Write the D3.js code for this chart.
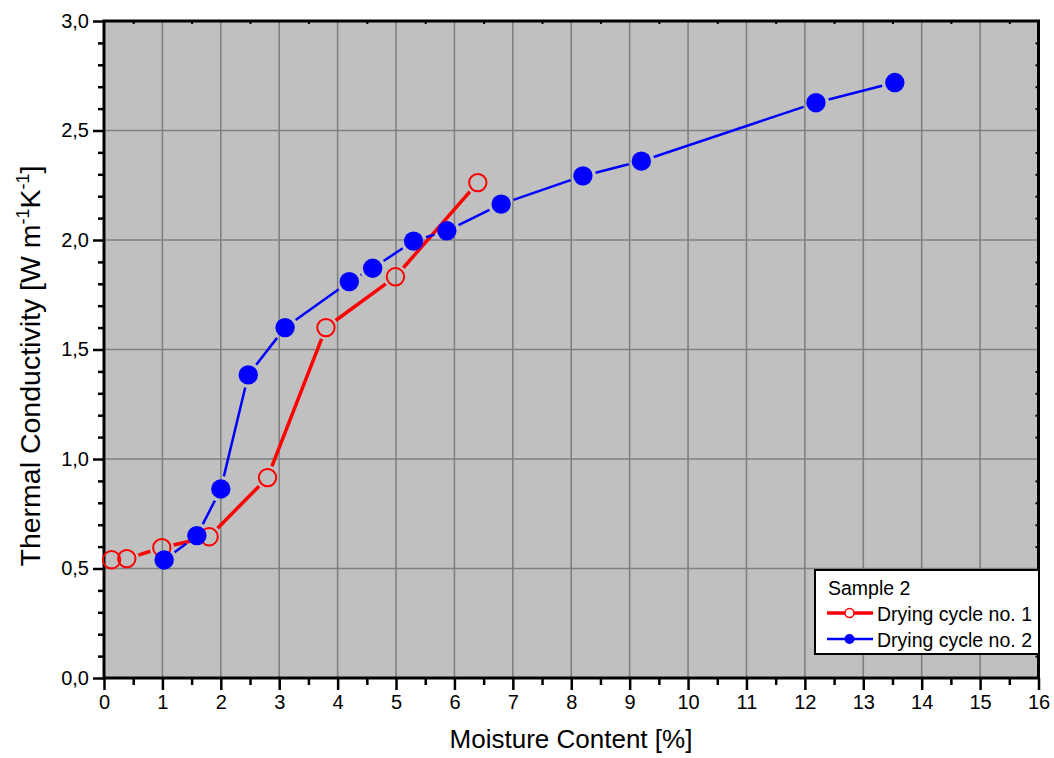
<!DOCTYPE html>
<html><head><meta charset="utf-8">
<script src="https://cdn.jsdelivr.net/npm/d3@7"></script>
<style>body{margin:0;background:#fff}svg{display:block}text{font-family:"Liberation Sans",Arial,sans-serif}</style>
</head><body><svg id="c" width="1054" height="758"></svg>
<script>
// Data
const cycle1X = [0.13, 0.39, 0.99, 1.80, 2.80, 3.80, 4.99, 6.40];
const cycle1Y = [0.540, 0.545, 0.595, 0.645, 0.915, 1.600, 1.832, 2.262];
const cycle2X = [1.03, 1.59, 2.00, 2.47, 3.10, 4.20, 4.60, 5.30, 5.87, 6.80, 8.20, 9.20, 12.19, 13.54];
const cycle2Y = [0.539, 0.650, 0.863, 1.384, 1.600, 1.810, 1.871, 1.995, 2.042, 2.164, 2.293, 2.360, 2.627, 2.719];
const xTicks = d3.range(0, 17, 1);
const yTicks = [0, 0.5, 1.0, 1.5, 2.0, 2.5, 3.0];
const legendTitle = "Sample 2";
const seriesNames = ["Drying cycle no. 1", "Drying cycle no. 2"];

const svg = d3.select("#c");
const L = 104, R = 1038.5, T = 21, B = 678;
const x = d3.scaleLinear().domain([0, 16]).range([L, R]);
const y = d3.scaleLinear().domain([0, 3]).range([B, T]);
const fmt = d => d3.format(".1f")(d).replace(".", ",");

svg.append("rect").attr("x", L).attr("y", T).attr("width", R - L).attr("height", B - T).attr("fill", "#c0c0c0");

// grid
svg.append("g").selectAll("line").data(xTicks.slice(1, -1)).join("line")
  .attr("x1", d => x(d)).attr("x2", d => x(d)).attr("y1", T).attr("y2", B)
  .attr("stroke", "#808080").attr("stroke-width", 1.6);
svg.append("g").selectAll("line").data(yTicks.slice(1, -1)).join("line")
  .attr("y1", d => y(d)).attr("y2", d => y(d)).attr("x1", L).attr("x2", R)
  .attr("stroke", "#808080").attr("stroke-width", 1.6);

// axes
const xAxis = d3.axisBottom(x).tickValues(xTicks).tickSize(12).tickPadding(5).tickFormat(d3.format("d"));
const gx = svg.append("g").attr("transform", `translate(0,${B})`).call(xAxis);
const yAxis = d3.axisLeft(y).tickValues(yTicks).tickSize(11).tickPadding(4).tickFormat(fmt);
const gy = svg.append("g").attr("transform", `translate(${L},0)`).call(yAxis);
[gx, gy].forEach(g => {
  g.select(".domain").remove();
  g.selectAll(".tick line").attr("stroke", "#000").attr("stroke-width", 2.5);
  g.selectAll(".tick text").attr("font-size", 20).attr("fill", "#000").style("font-family", '"Liberation Sans",Arial,sans-serif');
});
// minor ticks
const xMinor = d3.range(0.5, 16, 1);
svg.append("g").attr("transform", `translate(0,${B})`).call(d3.axisBottom(x).tickValues(xMinor).tickSize(7).tickFormat(""))
  .call(g => { g.select(".domain").remove(); g.selectAll("line").attr("stroke-width", 2.5); });
const yMinor = d3.range(0, 31).map(i => i / 10).filter(v => Math.round(v * 10) % 5 !== 0);
svg.append("g").attr("transform", `translate(${L},0)`).call(d3.axisLeft(y).tickValues(yMinor).tickSize(6).tickFormat(""))
  .call(g => { g.select(".domain").remove(); g.selectAll("line").attr("stroke-width", 2.5); });
// top/right tiny inward ticks
svg.append("g").attr("transform", `translate(0,${T})`).call(d3.axisBottom(x).tickValues(xMinor).tickSize(3).tickFormat(""))
  .call(g => { g.select(".domain").remove(); g.selectAll("line").attr("stroke-width", 2); });
svg.append("g").attr("transform", `translate(${R},0)`).call(d3.axisRight(y).tickValues(yMinor).tickSize(-3).tickFormat(""))
  .call(g => { g.select(".domain").remove(); g.selectAll("line").attr("stroke-width", 2); });

// frame
svg.append("rect").attr("x", L).attr("y", T).attr("width", R - L).attr("height", B - T)
  .attr("fill", "none").attr("stroke", "#000").attr("stroke-width", 3);

// series
function gapped(g, xs, ys, color, width, gap) {
  const pts = xs.map((v, i) => [x(v), y(ys[i])]);
  for (let i = 0; i < pts.length - 1; i++) {
    const [x1, y1] = pts[i], [x2, y2] = pts[i + 1];
    const d = Math.hypot(x2 - x1, y2 - y1);
    if (d <= 2 * gap) continue;
    const ux = (x2 - x1) / d, uy = (y2 - y1) / d;
    g.append("line").attr("x1", x1 + ux * gap).attr("y1", y1 + uy * gap)
      .attr("x2", x2 - ux * gap).attr("y2", y2 - uy * gap)
      .attr("stroke", color).attr("stroke-width", width);
  }
}
const s1 = svg.append("g");
gapped(s1, cycle1X, cycle1Y, "#ff0000", 3.5, 12);
s1.selectAll("circle").data(cycle1X).join("circle")
  .attr("cx", d => x(d)).attr("cy", (d, i) => y(cycle1Y[i])).attr("r", 8.7)
  .attr("fill", "none").attr("stroke", "#ff0000").attr("stroke-width", 2);

const s2 = svg.append("g");
gapped(s2, cycle2X, cycle2Y, "#0000ff", 2.5, 13);
s2.selectAll("circle").data(cycle2X).join("circle")
  .attr("cx", d => x(d)).attr("cy", (d, i) => y(cycle2Y[i])).attr("r", 9.7)
  .attr("fill", "#0000ff");

// axis titles
svg.append("text").attr("x", 571).attr("y", 748).attr("text-anchor", "middle")
  .attr("font-size", 26).text("Moisture Content [%]");
const yt = svg.append("text").attr("transform", "translate(40,366) rotate(-90)").attr("text-anchor", "middle")
  .attr("font-size", 28.5);
yt.append("tspan").text("Thermal Conductivity [W m");
yt.append("tspan").attr("font-size", 18).attr("dy", -11).text("-1");
yt.append("tspan").attr("dy", 11).text("K");
yt.append("tspan").attr("font-size", 18).attr("dy", -11).text("-1");
yt.append("tspan").attr("dy", 11).text("]");

// legend
const lg = svg.append("g");
lg.append("rect").attr("x", 815).attr("y", 570).attr("width", 224).attr("height", 84)
  .attr("fill", "#fff").attr("stroke", "#000").attr("stroke-width", 2);
lg.append("text").attr("x", 828).attr("y", 595).attr("font-size", 19.5).text(legendTitle);
const rows = [
  { y: 613, color: "#ff0000", w: 3.5, fill: "#fff", stroke: "#ff0000", r: 4.5 },
  { y: 639, color: "#0000ff", w: 2.5, fill: "#0000ff", stroke: "none", r: 5 }
];
rows.forEach((r, i) => {
  lg.append("line").attr("x1", 827).attr("x2", 873).attr("y1", r.y).attr("y2", r.y)
    .attr("stroke", r.color).attr("stroke-width", r.w);
  lg.append("circle").attr("cx", 849.5).attr("cy", r.y).attr("r", r.r)
    .attr("fill", r.fill).attr("stroke", r.stroke).attr("stroke-width", 1.5);
  lg.append("text").attr("x", 877).attr("y", r.y + 8).attr("font-size", 19.5).text(seriesNames[i]);
});
</script></body></html>
